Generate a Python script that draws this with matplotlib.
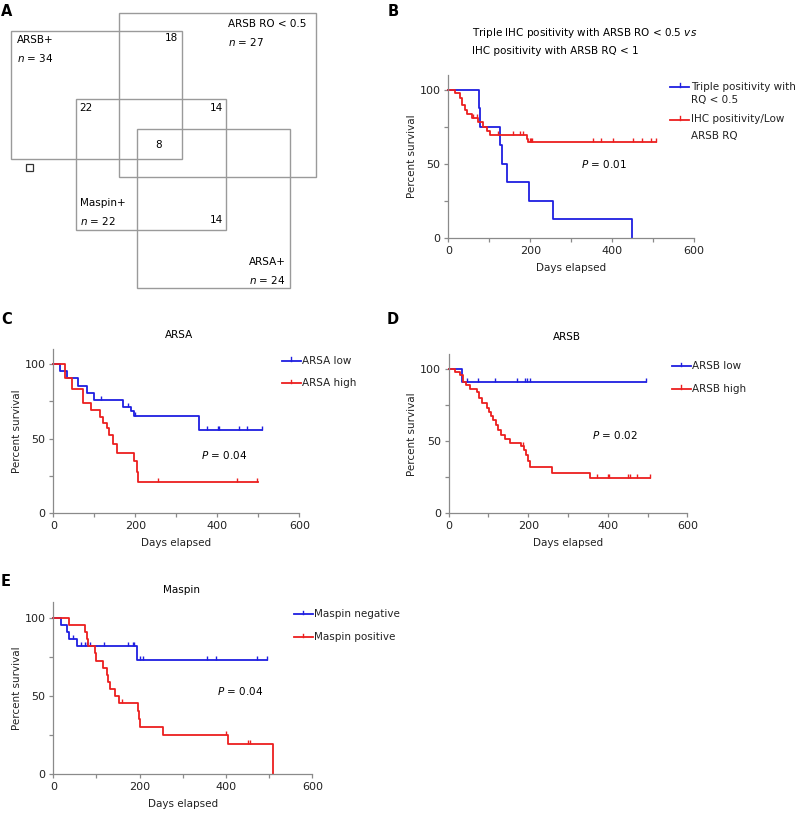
import numpy as np
import matplotlib
matplotlib.use('Agg')
import matplotlib.pyplot as plt
from matplotlib.path import Path
from matplotlib.patches import Rectangle
from matplotlib.lines import Line2D

plt.rcParams['font.family'] = 'DejaVu Sans'
plt.rcParams['mathtext.fontset'] = 'dejavusans'

W, H = 798, 814
FS = 7.5
BLUE = '#1f1fe0'
RED = '#ec1f1f'
GREY = '#8a8a8a'

# Panel A - group sizes and overlap counts
venn_names = ['ARSB+', 'ARSB RO < 0.5', 'Maspin+', 'ARSA+']
venn_n = [34, 27, 22, 24]
overlap_counts = [18, 22, 14, 8, 14]

# Panel B - triple positivity vs IHC positivity
b_blue_t = [75, 77, 126, 130, 144, 198, 256, 449]
b_blue_s = [87.5, 75, 62.5, 50, 37.5, 25, 12.5, 0]
b_blue_end = 449
b_blue_cens = []
b_red_t = [16, 28, 33, 41, 46, 57, 73, 85, 95, 102, 191, 195]
b_red_s = [97.5, 94.5, 90, 86.5, 83.5, 81, 78.5, 75, 72, 69.5, 67, 65]
b_red_end = 508
b_red_cens = [61, 69, 122, 158, 175, 183, 199, 202, 205, 354, 374, 403, 451, 472, 496, 508]

# Panel C - ARSA
c_blue_t = [16, 33, 61, 81, 99, 169, 189, 197, 356]
c_blue_s = [95.2, 90.5, 85.7, 81, 76.2, 71.4, 68.5, 65.5, 55.6]
c_blue_end = 508
c_blue_cens = [116, 183, 199, 374, 402, 405, 454, 472, 508]
c_red_t = [28, 45, 73, 93, 114, 122, 130, 137, 146, 156, 198, 203, 207]
c_red_s = [91, 83.5, 74, 69.5, 64.5, 60.7, 57, 52.4, 46.5, 40.7, 34.9, 27.9, 20.9]
c_red_end = 500
c_red_cens = [256, 449, 497]

# Panel D - ARSB
d_blue_t = [34]
d_blue_s = [91]
d_blue_end = 496
d_blue_cens = [45, 73, 116, 171, 192, 196, 204, 496]
d_red_t = [16, 28, 37, 43, 54, 72, 75, 83, 96, 101, 107, 112, 118, 124, 132,
           142, 154, 182, 190, 194, 199, 205, 259, 355]
d_red_s = [98, 95.5, 91, 88.5, 86, 84, 80, 76.5, 73, 70, 67, 64.5, 61.3, 57.8,
           54.5, 51.7, 48.6, 46.5, 43.7, 40.5, 36, 32, 28.2, 24.5]
d_red_end = 506
d_red_cens = [186, 372, 401, 404, 452, 456, 473, 506]

# Panel E - Maspin
e_blue_t = [18, 32, 36, 56, 194]
e_blue_s = [95.5, 91, 86.4, 81.8, 72.9]
e_blue_end = 494
e_blue_cens = [46, 64, 73, 79, 85, 117, 172, 184, 187, 201, 208, 355, 377, 471, 494]
e_red_t = [36, 74, 77, 81, 97, 100, 116, 124, 127, 131, 143, 153, 196, 198,
           200, 255, 405, 510]
e_red_s = [95.5, 91, 86.4, 81.8, 77.3, 72.7, 68.2, 63.6, 59.1, 54.5, 50, 45.5,
           40.5, 35.4, 30.3, 25.3, 19, 0]
e_red_end = 510
e_red_cens = [160, 401, 452, 455]

tick = Path([(0, 0), (0, 1)], [Path.MOVETO, Path.LINETO])

fig = plt.figure(figsize=(W / 100, H / 100), dpi=100)
ov = fig.add_axes([0, 0, 1, 1])
ov.set_xlim(0, W)
ov.set_ylim(H, 0)
ov.axis('off')


def panel(box):
    l, t, r, b = box
    ax = fig.add_axes([l / W, 1 - b / H, (r - l) / W, (b - t) / H])
    ax.set_facecolor('none')
    ax.set_xlim(0, 600)
    ax.set_ylim(0, 110)
    ax.set_xticks([0, 200, 400, 600])
    ax.set_xticks([100, 300, 500], minor=True)
    ax.set_yticks([0, 50, 100])
    ax.set_yticks([25, 75], minor=True)
    for side in ['top', 'right']:
        ax.spines[side].set_visible(False)
    for side in ['left', 'bottom']:
        ax.spines[side].set_color(GREY)
        ax.spines[side].set_linewidth(0.9)
    ax.tick_params(which='both', length=3.2, width=0.9, color=GREY,
                   labelsize=8, pad=2.5, labelcolor='#222222')
    ax.set_xlabel('Days elapsed', fontsize=FS, labelpad=5, color='#222222')
    ax.set_ylabel('Percent survival', fontsize=FS, labelpad=2, color='#222222')
    return ax


def km(ax, t, s, end, cens, color):
    x = [0] + list(t) + [end]
    y = [100] + list(s) + [s[-1]]
    ax.step(x, y, where='post', color=color, lw=1.3, clip_on=False)
    levels = [100] + list(s)
    cy = [levels[np.searchsorted(t, c, side='right')] for c in cens]
    ax.plot(cens, cy, ls='none', marker=tick, ms=5.5, mec=color, mew=1.0,
            clip_on=False)


def legend_entry(x, y, color, lines, dy=13.5):
    ov.add_line(Line2D([x, x + 19], [y, y], color=color, lw=1.3))
    ov.add_line(Line2D([x + 9.5, x + 9.5], [y, y - 3.5], color=color, lw=1.0))
    for i, txt in enumerate(lines):
        ov.text(x + 21, y + i * dy, txt, fontsize=FS, va='center', ha='left',
                color='#222222')


# panel letters
for letter, (px, py) in zip('ABCDE', [(1, 12), (388, 12), (1, 320), (387, 320), (1, 581)]):
    ov.text(px, py, letter, fontsize=10.5, fontweight='bold', va='center', ha='left')

# ---- Panel A
rects = [(11, 30.7, 181.7, 159.3), (119.3, 12.7, 316, 177),
         (76, 99, 225.7, 230), (137, 129, 290, 288)]
for (l, t, r, b) in rects:
    ov.add_patch(Rectangle((l, t), r - l, b - t, fill=False, ec='#9a9a9a', lw=1.0))
ov.add_patch(Rectangle((26, 163.5), 7, 7, fill=False, ec='#333333', lw=0.9))

name_pos = [(17, 40, 'left'), (228, 24, 'left'), (80, 203, 'left'), (286, 262, 'right')]
for name, n, (x, y, ha) in zip(venn_names, venn_n, name_pos):
    ov.text(x, y, name, fontsize=FS, va='center', ha=ha)
    ov.text(x, y + 18, '$n$ = %d' % n, fontsize=FS, va='center', ha=ha)

count_pos = [(178, 38, 'right'), (79, 108, 'left'), (223.5, 108, 'right'),
             (159, 145.5, 'center'), (223.5, 220, 'right')]
for c, (x, y, ha) in zip(overlap_counts, count_pos):
    ov.text(x, y, str(c), fontsize=FS, va='center', ha=ha)

# ---- Panel B
axb = panel((448.3, 75, 694, 237.7))
km(axb, b_blue_t, b_blue_s, b_blue_end, b_blue_cens, BLUE)
km(axb, b_red_t, b_red_s, b_red_end, b_red_cens, RED)
ov.text(471.5, 33, 'Triple IHC positivity with ARSB RO < 0.5 $vs$', fontsize=FS, va='center')
ov.text(471.5, 51, 'IHC positivity with ARSB RQ < 1', fontsize=FS, va='center')
axb.text(325, 50, '$P$ = 0.01', fontsize=FS, va='center', ha='left')
legend_entry(670, 86.5, BLUE, ['Triple positivity with', 'RQ < 0.5'])
legend_entry(670, 119.5, RED, ['IHC positivity/Low', 'ARSB RQ'], dy=16)

# ---- Panel C
axc = panel((53.3, 349.3, 299.3, 513.3))
km(axc, c_blue_t, c_blue_s, c_blue_end, c_blue_cens, BLUE)
km(axc, c_red_t, c_red_s, c_red_end, c_red_cens, RED)
ov.text(179, 335.5, 'ARSA', fontsize=FS, va='center', ha='center')
axc.text(360, 39, '$P$ = 0.04', fontsize=FS, va='center', ha='left')
legend_entry(281.5, 360.7, BLUE, ['ARSA low'])
legend_entry(281.5, 383.3, RED, ['ARSA high'])

# ---- Panel D
axd = panel((448.7, 354.3, 687.3, 513.3))
km(axd, d_blue_t, d_blue_s, d_blue_end, d_blue_cens, BLUE)
km(axd, d_red_t, d_red_s, d_red_end, d_red_cens, RED)
ov.text(567, 337.5, 'ARSB', fontsize=FS, va='center', ha='center')
axd.text(360, 54, '$P$ = 0.02', fontsize=FS, va='center', ha='left')
legend_entry(671.5, 366, BLUE, ['ARSB low'])
legend_entry(671.5, 388.7, RED, ['ARSB high'])

# ---- Panel E
axe = panel((53.3, 602.3, 312.3, 774))
km(axe, e_blue_t, e_blue_s, e_blue_end, e_blue_cens, BLUE)
km(axe, e_red_t, e_red_s, e_red_end, e_red_cens, RED)
ov.text(182, 590, 'Maspin', fontsize=FS, va='center', ha='center')
axe.text(380, 53, '$P$ = 0.04', fontsize=FS, va='center', ha='left')
legend_entry(293.5, 614, BLUE, ['Maspin negative'])
legend_entry(293.5, 637, RED, ['Maspin positive'])

fig.savefig('out.png', dpi=100, facecolor='white')
